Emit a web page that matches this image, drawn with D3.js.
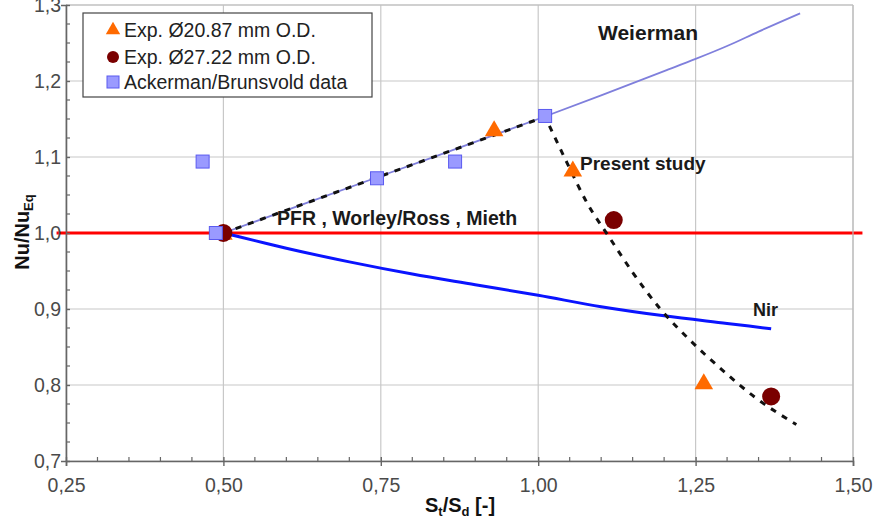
<!DOCTYPE html>
<html><head><meta charset="utf-8">
<script src="https://cdn.jsdelivr.net/npm/d3@7"></script>
<style>
body{margin:0;background:#fff;}
text{font-family:"Liberation Sans",Arial,sans-serif;}
</style></head>
<body>
<svg id="c" width="876" height="520"></svg>
<script>
const xTicks = [0.25, 0.50, 0.75, 1.00, 1.25, 1.50];
const yTicks = [0.7, 0.8, 0.9, 1.0, 1.1, 1.2, 1.3];

const expSmallX = [0.50, 0.930, 1.055, 1.263];
const expSmallY = [0.997, 1.133, 1.080, 0.800];

const expLargeX = [0.50, 1.120, 1.370];
const expLargeY = [1.000, 1.017, 0.785];

const ackX = [0.467, 0.488, 0.744, 0.868, 1.011];
const ackY = [1.094, 1.000, 1.072, 1.094, 1.154];

const weiermanX = [0.50, 0.75, 1.00, 1.10, 1.20, 1.25, 1.30, 1.35, 1.416];
const weiermanY = [1.000, 1.075, 1.150, 1.181, 1.213, 1.229, 1.246, 1.265, 1.289];

const nirX = [0.50, 0.55, 0.60, 0.70, 0.80, 0.90, 1.00, 1.10, 1.20, 1.30, 1.37];
const nirY = [1.000, 0.990, 0.980, 0.962, 0.946, 0.932, 0.918, 0.903, 0.891, 0.881, 0.874];

// present study fit: rising part, then falling part
const studyRiseX = [0.50, 1.011];
const studyRiseY = [1.000, 1.153];
const studyFallX = [1.011, 1.046, 1.078, 1.114, 1.151, 1.193, 1.241, 1.292, 1.344, 1.410];
const studyFallY = [1.153, 1.092, 1.039, 0.993, 0.947, 0.901, 0.859, 0.820, 0.784, 0.748];

const refLineX = [0.235, 1.515];
const refLineY = [1.0, 1.0];

const legendLabels = ["Exp. Ø20.87 mm O.D.", "Exp. Ø27.22 mm O.D.", "Ackerman/Brunsvold data"];

const svg = d3.select("#c");
const x = d3.scaleLinear().domain([0.25, 1.5]).range([66, 853]);
const y = d3.scaleLinear().domain([0.7, 1.3]).range([461, 5]);

// gridlines
const grid = svg.append("g");
grid.selectAll("line.v").data(xTicks).join("line")
  .attr("x1", d => x(d)).attr("x2", d => x(d)).attr("y1", y(1.3)).attr("y2", y(0.7))
  .attr("stroke", "#c8c8c8").attr("stroke-width", 1.2);
grid.selectAll("line.h").data(yTicks).join("line")
  .attr("y1", d => y(d)).attr("y2", d => y(d)).attr("x1", x(0.25)).attr("x2", x(1.5))
  .attr("stroke", "#c8c8c8").attr("stroke-width", 1.2);

const line = d3.line().x(d => x(d[0])).y(d => y(d[1]));
const curve = d3.line().x(d => x(d[0])).y(d => y(d[1])).curve(d3.curveMonotoneX);
const zip = (a, b) => a.map((v, i) => [v, b[i]]);

// red reference line
svg.append("path").datum(zip(refLineX, refLineY)).attr("d", line)
  .attr("stroke", "#ff0000").attr("stroke-width", 3).attr("fill", "none");

// Weierman
svg.append("path").datum(zip(weiermanX, weiermanY)).attr("d", curve)
  .attr("stroke", "#7f7fdc").attr("stroke-width", 1.8).attr("fill", "none");

// Nir
svg.append("path").datum(zip(nirX, nirY)).attr("d", curve)
  .attr("stroke", "#0a14ff").attr("stroke-width", 3).attr("fill", "none");

// present study dashed
svg.append("path").datum(zip(studyRiseX, studyRiseY)).attr("d", line)
  .attr("stroke", "#111").attr("stroke-width", 3).attr("fill", "none")
  .attr("stroke-dasharray", "6,7");
svg.append("path").datum(zip(studyFallX, studyFallY)).attr("d", curve)
  .attr("stroke", "#111").attr("stroke-width", 3).attr("fill", "none")
  .attr("stroke-dasharray", "6,7").attr("stroke-dashoffset", 3);

// markers
const tri = d3.symbol().type(d3.symbolTriangle).size(150);
svg.append("g").selectAll("path").data(zip(expSmallX, expSmallY)).join("path")
  .attr("d", tri).attr("transform", d => `translate(${x(d[0])},${y(d[1]) - 1})`)
  .attr("fill", "#ff6a00");
svg.append("g").selectAll("circle").data(zip(expLargeX, expLargeY)).join("circle")
  .attr("cx", d => x(d[0])).attr("cy", d => y(d[1])).attr("r", 9)
  .attr("fill", "#7a0000");
svg.append("g").selectAll("rect").data(zip(ackX, ackY)).join("rect")
  .attr("x", d => x(d[0]) - 6.5).attr("y", d => y(d[1]) - 6.5)
  .attr("width", 13).attr("height", 13)
  .attr("fill", "#9a9aff").attr("stroke", "#5a5af0").attr("stroke-width", 1);

// borders top/right
svg.append("line").attr("x1", x(0.25)).attr("x2", x(1.5)).attr("y1", y(1.3)).attr("y2", y(1.3))
  .attr("stroke", "#bdbdbd").attr("stroke-width", 1.2);
svg.append("line").attr("x1", x(1.5)).attr("x2", x(1.5)).attr("y1", y(1.3)).attr("y2", y(0.7))
  .attr("stroke", "#bdbdbd").attr("stroke-width", 1.2);

// axes
const fmtX = d => d3.format(".2f")(d).replace(".", ",");
const fmtY = d => d3.format(".1f")(d).replace(".", ",");
const xAxis = svg.append("g").attr("transform", `translate(0,${y(0.7)})`)
  .call(d3.axisBottom(x).tickValues(xTicks).tickFormat(fmtX).tickSize(5).tickPadding(12));
const yAxis = svg.append("g").attr("transform", `translate(${x(0.25)},0)`)
  .call(d3.axisLeft(y).tickValues(yTicks).tickFormat(fmtY).tickSize(5).tickPadding(0));
[xAxis, yAxis].forEach(a => {
  a.select(".domain").attr("stroke", "#666").attr("stroke-width", 1.6);
  a.selectAll(".tick line").attr("stroke", "#666").attr("stroke-width", 1.4);
  a.selectAll(".tick text").attr("fill", "#4a4a4a").attr("font-size", 19.5)
    .attr("font-family", "Liberation Sans, Arial, sans-serif");
});
xAxis.selectAll(".tick line").attr("y1", -4);
yAxis.selectAll(".tick line").attr("x2", 4);

// minor ticks
const xMinor = d3.range(0.30, 1.5, 0.05).filter(v => !xTicks.some(t => Math.abs(t - v) < 1e-6));
svg.append("g").selectAll("line").data(xMinor).join("line")
  .attr("x1", d => x(d)).attr("x2", d => x(d)).attr("y1", y(0.7)).attr("y2", y(0.7) - 4)
  .attr("stroke", "#666").attr("stroke-width", 1.2);
const yMinor = d3.range(0.725, 1.3, 0.025).filter(v => !yTicks.some(t => Math.abs(t - v) < 1e-6));
svg.append("g").selectAll("line").data(yMinor).join("line")
  .attr("y1", d => y(d)).attr("y2", d => y(d)).attr("x1", x(0.25)).attr("x2", x(0.25) + 4)
  .attr("stroke", "#666").attr("stroke-width", 1.2);

// axis titles
const yl = svg.append("text").attr("transform", "translate(29,232) rotate(-90)")
  .attr("text-anchor", "middle").attr("font-weight", "bold").attr("font-size", 20).attr("fill", "#111");
yl.append("tspan").text("Nu/Nu");
yl.append("tspan").text("Eq").attr("font-size", 13).attr("dy", 4);

const xl = svg.append("text").attr("x", 460).attr("y", 512)
  .attr("text-anchor", "middle").attr("font-weight", "bold").attr("font-size", 20).attr("fill", "#111");
xl.append("tspan").text("S");
xl.append("tspan").text("t").attr("font-size", 13).attr("dy", 4);
xl.append("tspan").text("/S").attr("dy", -4);
xl.append("tspan").text("d").attr("font-size", 13).attr("dy", 4);
xl.append("tspan").text(" [-]").attr("dy", -4);

// annotations
const ann = (t, px, py, fs) => svg.append("text").attr("x", px).attr("y", py)
  .attr("font-weight", "bold").attr("font-size", fs).attr("fill", "#1a1a1a").text(t);
ann("Weierman", 598, 40, 21);
ann("Present study", 580, 170, 19);
ann("PFR , Worley/Ross , Mieth", 277, 225, 19.5);
ann("Nir", 753, 316, 18);

// legend
const lg = svg.append("g");
lg.append("rect").attr("x", 83).attr("y", 13).attr("width", 289).attr("height", 84)
  .attr("fill", "#fff").attr("stroke", "#444").attr("stroke-width", 1.2);
const ly = [30, 57, 82];
lg.append("path").attr("d", d3.symbol().type(d3.symbolTriangle).size(90))
  .attr("transform", `translate(113,${ly[0]})`).attr("fill", "#ff6a00");
lg.append("circle").attr("cx", 113).attr("cy", ly[1]).attr("r", 6).attr("fill", "#7a0000");
lg.append("rect").attr("x", 107).attr("y", ly[2] - 6).attr("width", 12).attr("height", 12)
  .attr("fill", "#9a9aff").attr("stroke", "#5a5af0");
lg.selectAll("text").data(legendLabels).join("text")
  .attr("x", 124).attr("y", (d, i) => ly[i] + 7).attr("font-size", 19.5).attr("fill", "#222")
  .text(d => d);
</script>
</body></html>
